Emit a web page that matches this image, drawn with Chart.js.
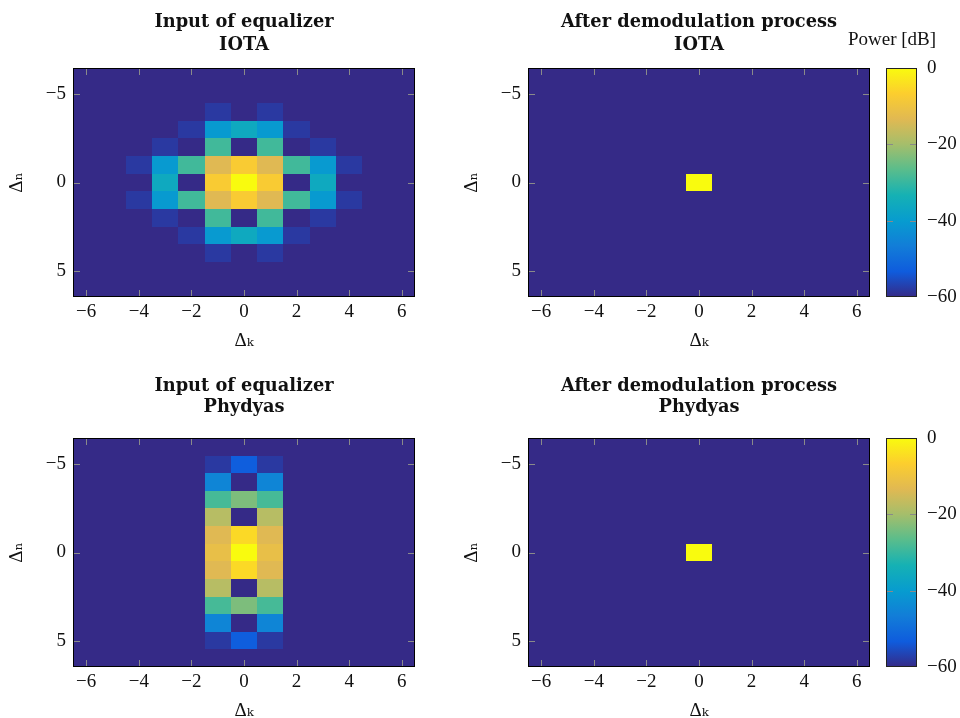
<!DOCTYPE html>
<html>
<head>
<meta charset="utf-8">
<title>Equalizer heatmaps</title>
<script src="https://cdn.jsdelivr.net/npm/chart.js@4.4.1/dist/chart.umd.min.js"></script>
<style>
  html, body { margin: 0; padding: 0; background: #fff; }
  #page { position: relative; width: 960px; height: 718px; overflow: hidden; }
  .box { position: absolute; }
</style>
</head>
<body>
<div id="page">
  <div class="box" style="left:0;top:0;width:430px;height:361px"><canvas id="iotaIn"></canvas></div>
  <div class="box" style="left:455px;top:0;width:430px;height:361px"><canvas id="iotaOut"></canvas></div>
  <div class="box" style="left:824px;top:0;width:136px;height:361px"><canvas id="cbTop"></canvas></div>
  <div class="box" style="left:0;top:370px;width:430px;height:361px"><canvas id="phyIn"></canvas></div>
  <div class="box" style="left:455px;top:370px;width:430px;height:361px"><canvas id="phyOut"></canvas></div>
  <div class="box" style="left:824px;top:370px;width:136px;height:361px"><canvas id="cbBottom"></canvas></div>
</div>
<script>
// axes
const deltaK = [-6, -5, -4, -3, -2, -1, 0, 1, 2, 3, 4, 5, 6];
const deltaN = [-6, -5, -4, -3, -2, -1, 0, 1, 2, 3, 4, 5, 6];
const kTicks = [-6, -4, -2, 0, 2, 4, 6];
const nTicks = [-5, 0, 5];
const powerTicks = [-60, -40, -20, 0];

// power in dB, one row per delta n (from -6 to 6), one column per delta k
const iotaInput = [
  [-60, -60, -60, -60, -60, -60, -60, -60, -60, -60, -60, -60, -60],
  [-60, -60, -60, -60, -60, -60, -60, -60, -60, -60, -60, -60, -60],
  [-60, -60, -60, -60, -60, -58, -60, -58, -60, -60, -60, -60, -60],
  [-60, -60, -60, -60, -58, -40.5, -36, -40.5, -58, -60, -60, -60, -60],
  [-60, -60, -60, -58, -60, -29, -60, -29, -60, -58, -60, -60, -60],
  [-60, -60, -58, -40.5, -29, -13.5, -7.5, -13.5, -29, -40.5, -58, -60, -60],
  [-60, -60, -60, -36, -60, -7.5, 0, -7.5, -60, -36, -60, -60, -60],
  [-60, -60, -58, -40.5, -29, -13.5, -7.5, -13.5, -29, -40.5, -58, -60, -60],
  [-60, -60, -60, -58, -60, -29, -60, -29, -60, -58, -60, -60, -60],
  [-60, -60, -60, -60, -58, -40.5, -36, -40.5, -58, -60, -60, -60, -60],
  [-60, -60, -60, -60, -60, -58, -60, -58, -60, -60, -60, -60, -60],
  [-60, -60, -60, -60, -60, -60, -60, -60, -60, -60, -60, -60, -60],
  [-60, -60, -60, -60, -60, -60, -60, -60, -60, -60, -60, -60, -60]
];
const iotaOutput = [
  [-60, -60, -60, -60, -60, -60, -60, -60, -60, -60, -60, -60, -60],
  [-60, -60, -60, -60, -60, -60, -60, -60, -60, -60, -60, -60, -60],
  [-60, -60, -60, -60, -60, -60, -60, -60, -60, -60, -60, -60, -60],
  [-60, -60, -60, -60, -60, -60, -60, -60, -60, -60, -60, -60, -60],
  [-60, -60, -60, -60, -60, -60, -60, -60, -60, -60, -60, -60, -60],
  [-60, -60, -60, -60, -60, -60, -60, -60, -60, -60, -60, -60, -60],
  [-60, -60, -60, -60, -60, -60, 0, -60, -60, -60, -60, -60, -60],
  [-60, -60, -60, -60, -60, -60, -60, -60, -60, -60, -60, -60, -60],
  [-60, -60, -60, -60, -60, -60, -60, -60, -60, -60, -60, -60, -60],
  [-60, -60, -60, -60, -60, -60, -60, -60, -60, -60, -60, -60, -60],
  [-60, -60, -60, -60, -60, -60, -60, -60, -60, -60, -60, -60, -60],
  [-60, -60, -60, -60, -60, -60, -60, -60, -60, -60, -60, -60, -60],
  [-60, -60, -60, -60, -60, -60, -60, -60, -60, -60, -60, -60, -60]
];
const phydyasInput = [
  [-60, -60, -60, -60, -60, -60, -60, -60, -60, -60, -60, -60, -60],
  [-60, -60, -60, -60, -60, -58, -53, -58, -60, -60, -60, -60, -60],
  [-60, -60, -60, -60, -60, -45, -60, -45, -60, -60, -60, -60, -60],
  [-60, -60, -60, -60, -60, -28.5, -23.5, -28.5, -60, -60, -60, -60, -60],
  [-60, -60, -60, -60, -60, -18, -60, -18, -60, -60, -60, -60, -60],
  [-60, -60, -60, -60, -60, -13.5, -5, -13.5, -60, -60, -60, -60, -60],
  [-60, -60, -60, -60, -60, -11.5, 0, -11.5, -60, -60, -60, -60, -60],
  [-60, -60, -60, -60, -60, -13.5, -5, -13.5, -60, -60, -60, -60, -60],
  [-60, -60, -60, -60, -60, -18, -60, -18, -60, -60, -60, -60, -60],
  [-60, -60, -60, -60, -60, -28.5, -23.5, -28.5, -60, -60, -60, -60, -60],
  [-60, -60, -60, -60, -60, -45, -60, -45, -60, -60, -60, -60, -60],
  [-60, -60, -60, -60, -60, -58, -53, -58, -60, -60, -60, -60, -60],
  [-60, -60, -60, -60, -60, -60, -60, -60, -60, -60, -60, -60, -60]
];
const phydyasOutput = [
  [-60, -60, -60, -60, -60, -60, -60, -60, -60, -60, -60, -60, -60],
  [-60, -60, -60, -60, -60, -60, -60, -60, -60, -60, -60, -60, -60],
  [-60, -60, -60, -60, -60, -60, -60, -60, -60, -60, -60, -60, -60],
  [-60, -60, -60, -60, -60, -60, -60, -60, -60, -60, -60, -60, -60],
  [-60, -60, -60, -60, -60, -60, -60, -60, -60, -60, -60, -60, -60],
  [-60, -60, -60, -60, -60, -60, -60, -60, -60, -60, -60, -60, -60],
  [-60, -60, -60, -60, -60, -60, 0, -60, -60, -60, -60, -60, -60],
  [-60, -60, -60, -60, -60, -60, -60, -60, -60, -60, -60, -60, -60],
  [-60, -60, -60, -60, -60, -60, -60, -60, -60, -60, -60, -60, -60],
  [-60, -60, -60, -60, -60, -60, -60, -60, -60, -60, -60, -60, -60],
  [-60, -60, -60, -60, -60, -60, -60, -60, -60, -60, -60, -60, -60],
  [-60, -60, -60, -60, -60, -60, -60, -60, -60, -60, -60, -60, -60],
  [-60, -60, -60, -60, -60, -60, -60, -60, -60, -60, -60, -60, -60]
];

const powerMin = -60;
const powerMax = 0;

// parula colormap (pgfplots)
const parula = [
  [53, 42, 135], [15, 92, 221], [18, 125, 216], [7, 156, 207], [21, 177, 180],
  [89, 189, 140], [165, 190, 107], [225, 185, 82], [252, 206, 46], [249, 251, 14]
];

const SERIF = "'Liberation Serif', 'DejaVu Serif', serif";
const TITLE_FONT = "bold 17.8px 'DejaVu Serif', 'Liberation Serif', serif";
const TEXT = '#111';

function colorFor(v) {
    let t = (v - powerMin) / (powerMax - powerMin);
    t = Math.max(0, Math.min(1, t)) * (parula.length - 1);
    const i = Math.min(Math.floor(t), parula.length - 2);
    const f = t - i;
    const c = parula[i].map((a, j) => Math.round(a + (parula[i + 1][j] - a) * f));
    return `rgb(${c[0]},${c[1]},${c[2]})`;
}

const minus = v => String(v).replace('-', '\u2212');

function toCells(grid) {
    const cells = [];
    deltaN.forEach((n, i) => {
        deltaK.forEach((k, j) => cells.push({ x: k, y: n, v: grid[i][j] }));
    });
    return cells;
}

// draws each cell from the scales, +-0.5 around its centre
const heatmapPlugin = {
    id: 'heatmap',
    beforeDatasetsDraw(chart) {
        const { ctx, chartArea: a, scales: { x, y } } = chart;
        ctx.save();
        ctx.beginPath();
        ctx.rect(a.left, a.top, a.right - a.left, a.bottom - a.top);
        ctx.clip();
        chart.data.datasets.forEach(ds => {
            ds.data.forEach(p => {
                const x0 = Math.round(x.getPixelForValue(p.x - 0.5));
                const x1 = Math.round(x.getPixelForValue(p.x + 0.5));
                const y0 = Math.round(y.getPixelForValue(p.y - 0.5));
                const y1 = Math.round(y.getPixelForValue(p.y + 0.5));
                ctx.fillStyle = colorFor(p.v);
                ctx.fillRect(Math.min(x0, x1), Math.min(y0, y1), Math.abs(x1 - x0), Math.abs(y1 - y0));
            });
        });
        ctx.restore();
    }
};

// frame and inward tick marks on every side
const framePlugin = {
    id: 'frame',
    afterDatasetsDraw(chart, args, opts) {
        const { ctx, chartArea: a } = chart;
        const len = 7;
        ctx.save();
        ctx.strokeStyle = '#8a8a8a';
        ctx.lineWidth = 1;
        ctx.beginPath();
        (opts.axes || []).forEach(id => {
            const s = chart.scales[id];
            s.ticks.forEach(t => {
                const p = Math.round(s.getPixelForValue(t.value)) + 0.5;
                if (s.isHorizontal()) {
                    ctx.moveTo(p, a.top); ctx.lineTo(p, a.top + len);
                    ctx.moveTo(p, a.bottom); ctx.lineTo(p, a.bottom - len);
                } else {
                    if (p < a.top + 2 || p > a.bottom - 2) return;
                    ctx.moveTo(a.left, p); ctx.lineTo(a.left + len, p);
                    ctx.moveTo(a.right, p); ctx.lineTo(a.right - len, p);
                }
            });
        });
        ctx.stroke();
        ctx.strokeStyle = opts.color || '#000';
        ctx.strokeRect(Math.round(a.left) + 0.5, Math.round(a.top) + 0.5,
            Math.round(a.right - a.left) - 1, Math.round(a.bottom - a.top) - 1);
        ctx.restore();
    }
};

// heading lines, centred on the plot area (or on the canvas)
const headingPlugin = {
    id: 'heading',
    afterDraw(chart, args, opts) {
        if (!opts.lines) return;
        const { ctx, chartArea: a } = chart;
        const cx = opts.centerCanvas ? chart.width / 2 : (a.left + a.right) / 2;
        ctx.save();
        ctx.font = opts.font;
        ctx.fillStyle = TEXT;
        ctx.textAlign = 'center';
        ctx.textBaseline = 'alphabetic';
        opts.lines.forEach((line, i) => ctx.fillText(line, cx, opts.baselines[i]));
        ctx.restore();
    }
};

function heatmap(id, grid, titleLines, baselines) {
    new Chart(document.getElementById(id), {
        type: 'scatter',
        data: {
            datasets: [{
                data: toCells(grid),
                pointRadius: 0,
                pointHoverRadius: 0
            }]
        },
        options: {
            responsive: true,
            maintainAspectRatio: false,
            animation: false,
            events: [],
            layout: { padding: { left: 0, right: 15, top: 68, bottom: 0 } },
            plugins: {
                legend: { display: false },
                tooltip: { enabled: false },
                title: { display: false },
                heading: { lines: titleLines, baselines: baselines, font: TITLE_FONT },
                frame: { axes: ['x', 'y'] }
            },
            scales: {
                x: {
                    type: 'linear',
                    min: -6.5,
                    max: 6.5,
                    afterBuildTicks: s => { s.ticks = kTicks.map(v => ({ value: v })); },
                    afterFit: s => { s.height = 64; },
                    grid: { display: false, drawTicks: false },
                    border: { display: false },
                    ticks: {
                        color: TEXT, padding: 4, maxRotation: 0, autoSkip: false,
                        font: { family: SERIF, size: 19 },
                        callback: minus
                    },
                    title: {
                        display: true, text: 'Δₖ', color: TEXT,
                        font: { family: SERIF, size: 19 },
                        padding: { top: 0, bottom: 9 }
                    }
                },
                y: {
                    type: 'linear',
                    reverse: true,
                    min: -6.5,
                    max: 6.5,
                    afterBuildTicks: s => { s.ticks = nTicks.map(v => ({ value: v })); },
                    afterFit: s => { s.width = 73; },
                    grid: { display: false, drawTicks: false },
                    border: { display: false },
                    ticks: {
                        color: TEXT, padding: 7, autoSkip: false,
                        font: { family: SERIF, size: 19 },
                        callback: minus
                    },
                    title: {
                        display: true, text: 'Δₙ', color: TEXT,
                        font: { family: SERIF, size: 19 },
                        padding: { top: 6, bottom: 0 }
                    }
                }
            }
        },
        plugins: [heatmapPlugin, framePlugin, headingPlugin]
    });
}

function colorbar(id, showTitle) {
    new Chart(document.getElementById(id), {
        type: 'bar',
        data: {
            labels: [''],
            datasets: [{
                data: [[powerMin, powerMax]],
                barPercentage: 1,
                categoryPercentage: 1,
                borderWidth: 0,
                backgroundColor: ctx => {
                    const chart = ctx.chart;
                    if (!chart.chartArea) return colorFor(powerMin);
                    const y = chart.scales.y;
                    const g = chart.ctx.createLinearGradient(0, y.getPixelForValue(powerMin), 0, y.getPixelForValue(powerMax));
                    parula.forEach((c, i) => g.addColorStop(i / (parula.length - 1), `rgb(${c[0]},${c[1]},${c[2]})`));
                    return g;
                }
            }]
        },
        options: {
            responsive: true,
            maintainAspectRatio: false,
            animation: false,
            events: [],
            layout: { padding: { left: 62, right: 0, top: 68, bottom: 64 } },
            plugins: {
                legend: { display: false },
                tooltip: { enabled: false },
                title: { display: false },
                heading: showTitle
                    ? { lines: ['Power [dB]'], baselines: [45], font: `19px ${SERIF}`, centerCanvas: true }
                    : {},
                frame: { axes: ['y'], color: '#222' }
            },
            scales: {
                x: { display: false },
                y: {
                    position: 'right',
                    min: powerMin,
                    max: powerMax,
                    afterBuildTicks: s => { s.ticks = powerTicks.map(v => ({ value: v })); },
                    afterFit: s => { s.width = 43; },
                    grid: { display: false, drawTicks: false },
                    border: { display: false },
                    ticks: {
                        color: TEXT, padding: 10, autoSkip: false,
                        font: { family: SERIF, size: 19 },
                        callback: minus
                    }
                }
            }
        },
        plugins: [framePlugin, headingPlugin]
    });
}

heatmap('iotaIn', iotaInput, ['Input of equalizer', 'IOTA'], [27, 50]);
heatmap('iotaOut', iotaOutput, ['After demodulation process', 'IOTA'], [27, 50]);
heatmap('phyIn', phydyasInput, ['Input of equalizer', 'Phydyas'], [21, 42]);
heatmap('phyOut', phydyasOutput, ['After demodulation process', 'Phydyas'], [21, 42]);
colorbar('cbTop', true);
colorbar('cbBottom', false);
</script>
</body>
</html>
